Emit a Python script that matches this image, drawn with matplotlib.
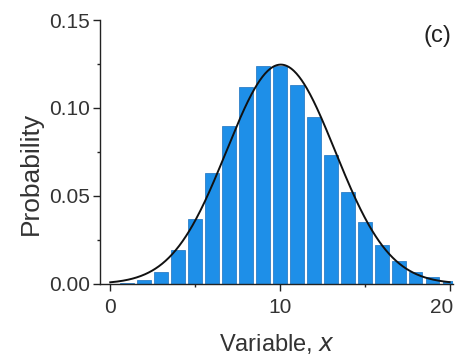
import numpy as np
import matplotlib.pyplot as plt
import matplotlib.transforms as mtransforms
from matplotlib.ticker import MultipleLocator

plt.rcParams['font.family'] = ['Liberation Sans', 'DejaVu Sans']

# histogram of x (probability per integer value)
x_vals = [1, 2, 3, 4, 5, 6, 7, 8, 9, 10, 11, 12, 13, 14, 15, 16, 17, 18, 19, 20]
prob = [0.0004, 0.002, 0.007, 0.019, 0.037, 0.063, 0.090, 0.112, 0.124, 0.124,
        0.113, 0.095, 0.073, 0.052, 0.035, 0.022, 0.013, 0.007, 0.004, 0.0015]

# gaussian fit parameters
mu = 10.05
sigma = 3.2

fig = plt.figure(figsize=(4.59, 3.58), dpi=100)
ax = fig.add_axes([0.218, 0.207, 0.769, 0.737])

ax.bar(x_vals, prob, width=0.8, color='#1e8fe8', edgecolor='#1a70bf', linewidth=0.5)
xf = np.linspace(0, 20, 400)
yf = np.exp(-(xf - mu) ** 2 / (2 * sigma ** 2)) / (sigma * np.sqrt(2 * np.pi))
ax.plot(xf, yf, color='#111111', lw=1.4)

ax.set_xlim(-0.6, 20.2)
ax.set_ylim(0, 0.15)
ax.set_xticks([0, 10, 20])
ax.xaxis.set_minor_locator(MultipleLocator(5))
ax.yaxis.set_minor_locator(MultipleLocator(0.025))
ax.set_yticks([0, 0.05, 0.10, 0.15])
ax.set_yticklabels(['0.00', '0.05', '0.10', '0.15'])
for s in ['top', 'right']:
    ax.spines[s].set_visible(False)
for s in ['left', 'bottom']:
    ax.spines[s].set_linewidth(1.0)
    ax.spines[s].set_color('#222222')
ax.tick_params(which='major', direction='out', length=5, width=1, pad=2, labelsize=15,
               colors='#222222', labelcolor='#333333')
ax.tick_params(axis='x', which='major', pad=5)
ax.tick_params(which='minor', direction='out', length=2.5, width=1, colors='#222222')

# last x tick label sits a bit left so it stays inside the figure
lab20 = ax.xaxis.get_major_ticks()[-1].label1
lab20.set_transform(lab20.get_transform() + mtransforms.ScaledTranslation(-0.08, 0, fig.dpi_scale_trans))

ax.set_xlabel('Variable, $\\it{x}$', fontsize=17, color='#333333', labelpad=11)
ax.set_ylabel('Probability', fontsize=19, color='#333333')
ax.yaxis.set_label_coords(-0.163, 0.42)
fig.text(437.5 / 459, 1 - 36 / 358, '(c)', fontsize=17, ha='center', va='center', color='#222222')

fig.savefig('out.png', dpi=100)
